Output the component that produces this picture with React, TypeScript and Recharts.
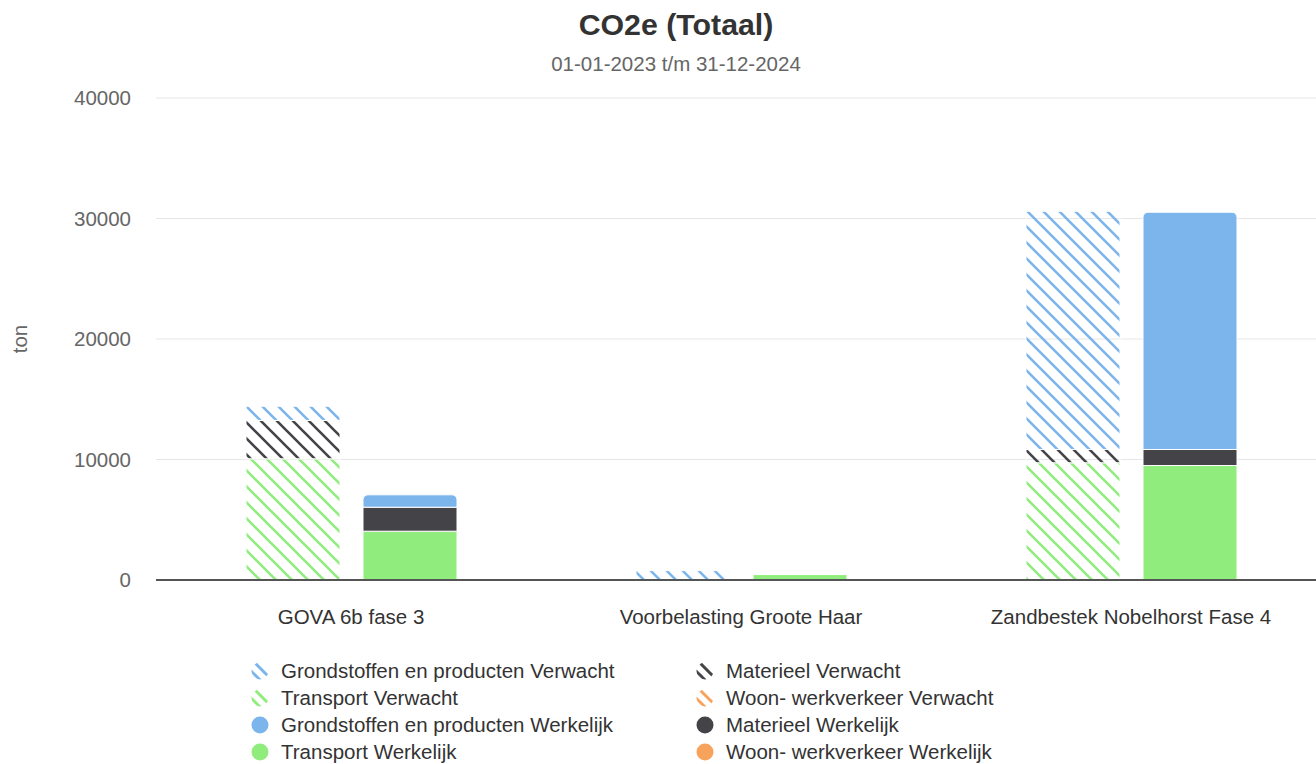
import { Bar, BarChart, CartesianGrid, XAxis, YAxis } from "recharts";

const categories = ["GOVA 6b fase 3", "Voorbelasting Groote Haar", "Zandbestek Nobelhorst Fase 4"];

const grondstoffenVerwacht = [1180, 780, 19770];
const materieelVerwacht = [3180, 0, 1100];
const transportVerwacht = [10060, 0, 9730];
const woonVerwacht = [0, 0, 0];

const grondstoffenWerkelijk = [1030, 0, 19690];
const materieelWerkelijk = [1990, 0, 1330];
const transportWerkelijk = [4050, 450, 9500];
const woonWerkelijk = [0, 0, 0];

const yTicks = [0, 10000, 20000, 30000, 40000];

const BLUE = "#7cb5ec";
const DARK = "#434348";
const GREEN = "#90ed7d";
const ORANGE = "#f7a35c";

const data = categories.map((name, i) => ({
  name,
  gV: grondstoffenVerwacht[i],
  mV: materieelVerwacht[i],
  tV: transportVerwacht[i],
  wV: woonVerwacht[i],
  gW: grondstoffenWerkelijk[i],
  mW: materieelWerkelijk[i],
  tW: transportWerkelijk[i],
  wW: woonWerkelijk[i],
}));

// legend order as drawn (two columns, filled row by row)
const legendItems = [
  { label: "Grondstoffen en producten Verwacht", color: BLUE, hatched: true },
  { label: "Materieel Verwacht", color: DARK, hatched: true },
  { label: "Transport Verwacht", color: GREEN, hatched: true },
  { label: "Woon- werkverkeer Verwacht", color: ORANGE, hatched: true },
  { label: "Grondstoffen en producten Werkelijk", color: BLUE, hatched: false },
  { label: "Materieel Werkelijk", color: DARK, hatched: false },
  { label: "Transport Werkelijk", color: GREEN, hatched: false },
  { label: "Woon- werkverkeer Werkelijk", color: ORANGE, hatched: false },
];

const FONT = '"Liberation Sans", Arial, Helvetica, sans-serif';
const FS = 20.5;

function Hatch({ id, color }: { id: string; color: string }) {
  return (
    <pattern id={id} patternUnits="userSpaceOnUse" width={16} height={16}>
      <path
        d="M 0 0 L 16 16 M 12 -4 L 20 4 M -4 12 L 4 20"
        stroke={color}
        strokeWidth={2.6}
        fill="none"
      />
    </pattern>
  );
}

function LegendSymbol({ color, hatched, idx }: { color: string; hatched: boolean; idx: number }) {
  const pid = `lg-hatch-${idx}`;
  return (
    <svg width={18} height={18} style={{ display: "block" }}>
      {hatched && (
        <defs>
          <pattern id={pid} patternUnits="userSpaceOnUse" width={12} height={12} x={3} y={0}>
            <path d="M 0 0 L 12 12 M 9 -3 L 15 3 M -3 9 L 3 15" stroke={color} strokeWidth={3} fill="none" />
          </pattern>
        </defs>
      )}
      <circle cx={9} cy={9} r={8.5} fill={hatched ? `url(#${pid})` : color} />
    </svg>
  );
}

export default function App() {
  return (
    <div
      style={{
        position: "absolute",
        left: 0,
        top: 0,
        width: 1316,
        height: 764,
        overflow: "hidden",
        background: "#fff",
        fontFamily: FONT,
      }}
    >
      <div
        style={{
          position: "absolute",
          left: 0,
          top: 7,
          width: 1352,
          textAlign: "center",
          fontSize: 30.3,
          fontWeight: "bold",
          color: "#333",
          lineHeight: "36px",
        }}
      >
        CO2e (Totaal)
      </div>
      <div
        style={{
          position: "absolute",
          left: 0,
          top: 52,
          width: 1352,
          textAlign: "center",
          fontSize: FS,
          color: "#666",
          lineHeight: "24px",
        }}
      >
        01-01-2023 t/m 31-12-2024
      </div>
      <div
        style={{
          position: "absolute",
          left: 20,
          top: 339,
          transform: "translate(-50%, -50%) rotate(-90deg)",
          fontSize: FS,
          color: "#666",
          lineHeight: "24px",
        }}
      >
        ton
      </div>

      <BarChart
        width={1352}
        height={764}
        data={data}
        margin={{ top: 98, right: 26, bottom: 124, left: 0 }}
        barSize={94}
        barGap={23}
      >
        <defs>
          <Hatch id="hatch-blue" color={BLUE} />
          <Hatch id="hatch-dark" color={DARK} />
          <Hatch id="hatch-green" color={GREEN} />
          <Hatch id="hatch-orange" color={ORANGE} />
        </defs>
        <CartesianGrid vertical={false} stroke="#e6e6e6" />
        <XAxis
          dataKey="name"
          height={60}
          tickLine={false}
          tickMargin={23}
          axisLine={{ stroke: "#555", strokeWidth: 2 }}
          tick={{ fontSize: FS, fill: "#333" }}
          interval={0}
        />
        <YAxis
          width={156}
          domain={[0, 40000]}
          ticks={yTicks}
          tickLine={false}
          axisLine={false}
          tickMargin={19}
          tick={{ fontSize: FS, fill: "#666" }}
        />
        <Bar dataKey="wV" stackId="verwacht" fill="url(#hatch-orange)" stroke="#fff" strokeWidth={1} isAnimationActive={false} />
        <Bar dataKey="tV" stackId="verwacht" fill="url(#hatch-green)" stroke="#fff" strokeWidth={1} isAnimationActive={false} />
        <Bar dataKey="mV" stackId="verwacht" fill="url(#hatch-dark)" stroke="#fff" strokeWidth={1} isAnimationActive={false} />
        <Bar dataKey="gV" stackId="verwacht" fill="url(#hatch-blue)" stroke="#fff" strokeWidth={1} isAnimationActive={false} />
        <Bar dataKey="wW" stackId="werkelijk" fill={ORANGE} stroke="#fff" strokeWidth={1} isAnimationActive={false} />
        <Bar dataKey="tW" stackId="werkelijk" fill={GREEN} stroke="#fff" strokeWidth={1} isAnimationActive={false} />
        <Bar dataKey="mW" stackId="werkelijk" fill={DARK} stroke="#fff" strokeWidth={1} isAnimationActive={false} />
        <Bar dataKey="gW" stackId="werkelijk" fill={BLUE} stroke="#fff" strokeWidth={1} radius={[5, 5, 0, 0]} isAnimationActive={false} />
      </BarChart>

      {legendItems.map((item, i) => {
        const col = i % 2;
        const row = Math.floor(i / 2);
        return (
          <div
            key={item.label}
            style={{
              position: "absolute",
              left: col === 0 ? 251 : 696,
              top: 671 + row * 27 - 12,
              height: 24,
              display: "flex",
              alignItems: "center",
              fontSize: FS,
              color: "#333",
              whiteSpace: "nowrap",
            }}
          >
            <LegendSymbol color={item.color} hatched={item.hatched} idx={i} />
            <span style={{ marginLeft: 12 }}>{item.label}</span>
          </div>
        );
      })}
    </div>
  );
}
